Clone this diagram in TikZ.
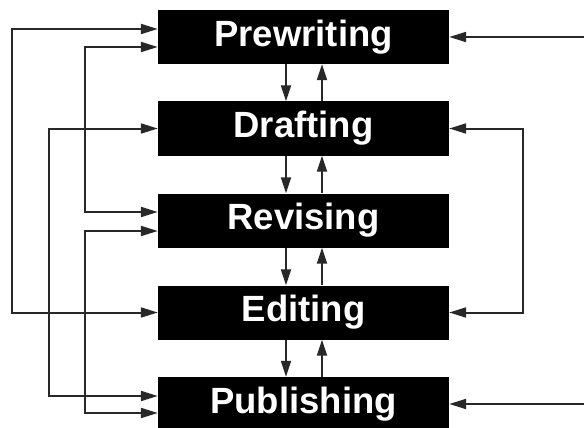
\documentclass[tikz,border=0pt]{standalone}
\usepackage{fontspec}
\setmainfont{Liberation Sans}
\usetikzlibrary{arrows.meta}

\definecolor{custcol_line}{RGB}{40, 40, 40}

\begin{document}
\begin{tikzpicture}[x=1pt,y=-1pt,line cap=rect,
    stage/.style={fill=black, text=white, inner sep=0, minimum width=291pt, minimum height=54pt,
        font=\fontsize{36.5pt}{36.5pt}\bfseries\selectfont},
    link/.style={line width=2.0pt, custcol_line, line cap=butt,
        arrows={-Triangle[length=17pt,width=10pt]}},
    twolink/.style={link, arrows={Triangle[length=17pt,width=10pt]-Triangle[length=17pt,width=10pt]}},
    steplink/.style={link, arrows={-Triangle[length=16pt,width=10pt]}}]
    \useasboundingbox (0,0) rectangle (584,428);
    % stages
    \node[stage] (pre) at (303.5,37.0) {Prewriting};
    \node[stage] (draft) at (303.5,128.5) {Drafting};
    \node[stage] (rev) at (303.5,220.5) {Revising};
    \node[stage] (edit) at (303.5,312.5) {Editing};
    \node[stage] (pub) at (303.5,404.0) {Publishing};
    % free ends on the right
    \coordinate (inA) at (584.0,37.0);
    \coordinate (inB) at (584.0,404.0);
    % down and up between stages
    \foreach \a/\b in {pre/draft, draft/rev, rev/edit, edit/pub} {
        \draw[steplink] ([xshift=-17.5pt]\a.south) -- ([xshift=-17.5pt]\b.north);
        \draw[steplink] ([xshift=18.5pt]\b.north) -- ([xshift=18.5pt]\a.south);
    }
    % left loops
    \draw[twolink] ([yshift=8pt]pre.west) -- ++(-146,0) |- (edit.west);
    \draw[twolink] (draft.west) -- ++(-109,0) |- ([yshift=8pt]pub.west);
    \draw[twolink] ([yshift=-10pt]pre.west) -- ++(-73,0) |- ([yshift=8.5pt]rev.west);
    \draw[twolink] ([yshift=-10.5pt]rev.west) -- ++(-73,0) |- ([yshift=-9pt]pub.west);
    % right loops
    \draw[twolink] (draft.east) -- ++(74,0) |- (edit.east);
    \draw[link] (inA) -- (pre.east);
    \draw[link] (inB) -- (pub.east);
\end{tikzpicture}
\end{document}
